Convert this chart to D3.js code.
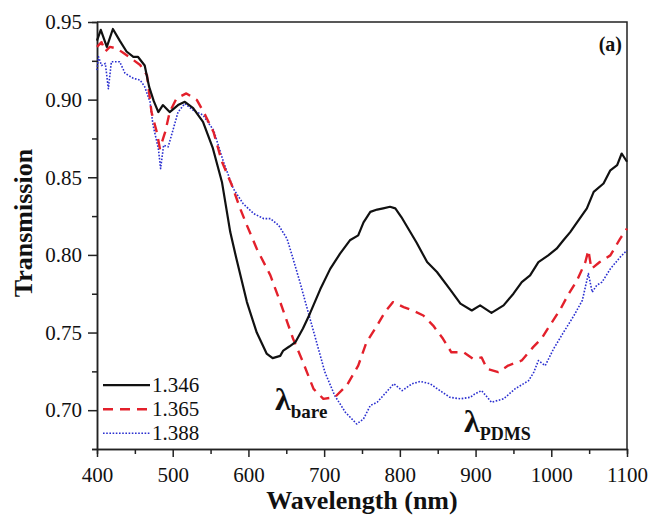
<!DOCTYPE html>
<html lang="en">
<head>
<meta charset="utf-8">
<title>Transmission spectra</title>
<script src="https://cdn.jsdelivr.net/npm/d3@7"></script>
<style>
  body { margin: 0; background: #fff; }
  .axis path, .axis line { stroke: #222; stroke-width: 1.5; fill: none; }
</style>
</head>
<body>
<div id="chart"></div>
<script>
// series (wavelength nm, transmission)
var wl1346 = [400,405,413,421,430,439,448,454,463,469,475,481,487,496,507,516,527,540,553,565,576,584,598,611,624,632,642,646,654,662,672,681,695,708,721,734,745,752,761,770,778,787,794,802,811,822,836,849,866,880,895,906,921,937,950,961,972,983,996,1007,1016,1025,1034,1047,1056,1069,1078,1087,1093,1100];
var t1346  = [0.938,0.945,0.934,0.9455,0.938,0.931,0.9276,0.9276,0.922,0.908,0.899,0.892,0.8965,0.892,0.8965,0.8986,0.8945,0.8857,0.8687,0.847,0.8147,0.7978,0.7696,0.750,0.7365,0.7335,0.735,0.7384,0.741,0.7438,0.7526,0.762,0.778,0.791,0.8008,0.8094,0.8126,0.821,0.8277,0.8292,0.830,0.831,0.830,0.8244,0.817,0.808,0.7954,0.789,0.778,0.7686,0.7642,0.7675,0.7627,0.7675,0.775,0.7825,0.7868,0.7954,0.7997,0.804,0.8094,0.8147,0.821,0.830,0.8406,0.846,0.8545,0.8578,0.8653,0.860];

var wl1365 = [400,406,411,417,426,435,448,457,466,472,479,483,490,496,505,518,532,543,554,565,578,589,598,611,629,642,659,672,686,699,714,730,745,756,770,780,791,805,818,831,844,857,868,884,897,908,915,930,943,961,976,987,998,1012,1023,1034,1045,1049,1053,1064,1078,1091,1100];
var t1365  = [0.934,0.937,0.931,0.934,0.933,0.930,0.9255,0.9223,0.9158,0.892,0.879,0.8686,0.879,0.892,0.9008,0.904,0.8997,0.890,0.879,0.860,0.845,0.830,0.819,0.804,0.7868,0.7696,0.746,0.731,0.7137,0.7073,0.7083,0.716,0.7287,0.7438,0.7545,0.763,0.7696,0.7664,0.764,0.761,0.7545,0.746,0.7373,0.7373,0.733,0.734,0.7266,0.7245,0.7287,0.732,0.7406,0.746,0.7545,0.765,0.775,0.7836,0.7954,0.803,0.791,0.7954,0.7997,0.8105,0.817];

var wl1388 = [400,402,406,411,415,419,430,437,448,457,463,470,474,481,484,488,494,501,507,516,527,540,554,567,580,593,607,620,629,640,651,659,668,679,690,701,714,728,743,752,761,770,778,792,803,816,827,840,853,866,880,893,899,908,921,937,952,970,977,983,992,1003,1016,1030,1041,1049,1054,1060,1067,1078,1091,1100];
var t1388  = [0.919,0.9276,0.922,0.9233,0.907,0.9244,0.9244,0.917,0.9137,0.9126,0.9083,0.8986,0.8836,0.8686,0.8556,0.8707,0.8696,0.8815,0.892,0.8975,0.8932,0.890,0.8803,0.860,0.8427,0.833,0.8266,0.8234,0.8234,0.819,0.8104,0.7975,0.7825,0.763,0.7438,0.7245,0.7094,0.6987,0.6911,0.6944,0.703,0.7051,0.7094,0.717,0.7126,0.717,0.7185,0.717,0.7126,0.7083,0.7073,0.7083,0.7105,0.7126,0.7051,0.7073,0.7137,0.719,0.7245,0.732,0.7287,0.7395,0.750,0.761,0.7707,0.788,0.776,0.7804,0.7825,0.791,0.7986,0.803];

var seriesNames = ["1.346", "1.365", "1.388"];
var xTicks = [400, 500, 600, 700, 800, 900, 1000, 1100];
var yTicks = [0.70, 0.75, 0.80, 0.85, 0.90, 0.95];

var serif = "'Liberation Serif', 'Times New Roman', 'DejaVu Serif', serif";

var W = 652, H = 519;
var margin = {top: 22, right: 25, bottom: 70, left: 97};
var width = W - margin.left - margin.right,
    height = H - margin.top - margin.bottom;

var svg = d3.select("#chart").append("svg")
    .attr("width", W).attr("height", H)
    .attr("font-family", serif);
var chart = svg.append("g")
    .attr("transform", "translate(" + margin.left + "," + margin.top + ")");

var x = d3.scaleLinear().domain([400, 1100]).range([0, width]);
var y = d3.scaleLinear().domain([0.675, 0.95]).range([height, 0]);

function styleAxis(g) {
  g.attr("font-family", serif).attr("font-size", 21);
  g.selectAll("text").attr("fill", "#111");
}

// minor ticks first, majors on top
chart.append("g").attr("class", "axis")
    .attr("transform", "translate(0," + height + ")")
    .call(d3.axisBottom(x).tickValues(d3.range(450, 1100, 100)).tickSize(5).tickFormat(""));
chart.append("g").attr("class", "axis")
    .call(d3.axisLeft(y).tickValues([0.675, 0.725, 0.775, 0.825, 0.875, 0.925]).tickSize(5).tickFormat(""));

chart.append("g").attr("class", "axis")
    .attr("transform", "translate(0," + height + ")")
    .call(d3.axisBottom(x).tickValues(xTicks).tickFormat(d3.format("d")).tickSize(8).tickPadding(10).tickSizeOuter(0))
    .call(styleAxis);
chart.append("g").attr("class", "axis")
    .call(d3.axisLeft(y).tickValues(yTicks).tickFormat(d3.format(".2f")).tickSize(9).tickPadding(6).tickSizeOuter(0))
    .call(styleAxis);

// top and right frame
chart.append("path")
    .attr("d", "M0,0H" + width + "V" + height)
    .attr("fill", "none").attr("stroke", "#222").attr("stroke-width", 1.5);

var styles = [
  {color: "#111111", width: 2.2, dash: null},
  {color: "#e3202b", width: 2.4, dash: "10,7"},
  {color: "#2a2fd0", width: 1.6, dash: "1.6,1.6"}
];
var all = [[wl1346, t1346], [wl1365, t1365], [wl1388, t1388]];

var line = d3.line()
    .x(function(d) { return x(d[0]); })
    .y(function(d) { return y(d[1]); });

// draw blue, red, then black on top
[2, 1, 0].forEach(function(k) {
  var pts = d3.zip(all[k][0], all[k][1]);
  chart.append("path")
      .datum(pts)
      .attr("d", line)
      .attr("fill", "none")
      .attr("stroke", styles[k].color)
      .attr("stroke-width", styles[k].width)
      .attr("stroke-dasharray", styles[k].dash)
      .attr("stroke-linejoin", "round");
});

// legend
var legend = chart.append("g").attr("transform", "translate(6," + (y(0.70) - 25) + ")");
seriesNames.forEach(function(name, i) {
  var row = legend.append("g").attr("transform", "translate(0," + (i * 24) + ")");
  row.append("line")
      .attr("x1", 0).attr("x2", 47).attr("y1", 0).attr("y2", 0)
      .attr("stroke", styles[i].color)
      .attr("stroke-width", styles[i].width)
      .attr("stroke-dasharray", styles[i].dash);
  row.append("text")
      .attr("x", 49).attr("y", 7)
      .attr("font-family", serif)
      .attr("font-size", 21)
      .attr("fill", "#111")
      .text(name);
});

// annotations
var lb = chart.append("text").attr("x", 275 - margin.left).attr("y", 410 - margin.top)
    .attr("font-family", serif).attr("font-weight", "bold").attr("fill", "#111");
lb.append("tspan").attr("font-size", 32).text("λ");
lb.append("tspan").attr("font-size", 19).attr("dy", 8).text("bare");

var lp = chart.append("text").attr("x", 464 - margin.left).attr("y", 432 - margin.top)
    .attr("font-family", serif).attr("font-weight", "bold").attr("fill", "#111");
lp.append("tspan").attr("font-size", 32).text("λ");
lp.append("tspan").attr("font-size", 18).attr("dy", 8).text("PDMS");

chart.append("text")
    .attr("x", width - 5).attr("y", 29)
    .attr("text-anchor", "end")
    .attr("font-family", serif)
    .attr("font-size", 20).attr("font-weight", "bold").attr("fill", "#111")
    .text("(a)");

// axis titles
svg.append("text")
    .attr("x", margin.left + width / 2).attr("y", 509)
    .attr("text-anchor", "middle")
    .attr("font-family", serif)
    .attr("font-size", 26).attr("font-weight", "bold").attr("fill", "#111")
    .text("Wavelength (nm)");

svg.append("text")
    .attr("transform", "translate(32,223) rotate(-90)")
    .attr("text-anchor", "middle")
    .attr("font-family", serif)
    .attr("font-size", 26).attr("font-weight", "bold").attr("fill", "#111")
    .text("Transmission");
</script>
</body>
</html>
